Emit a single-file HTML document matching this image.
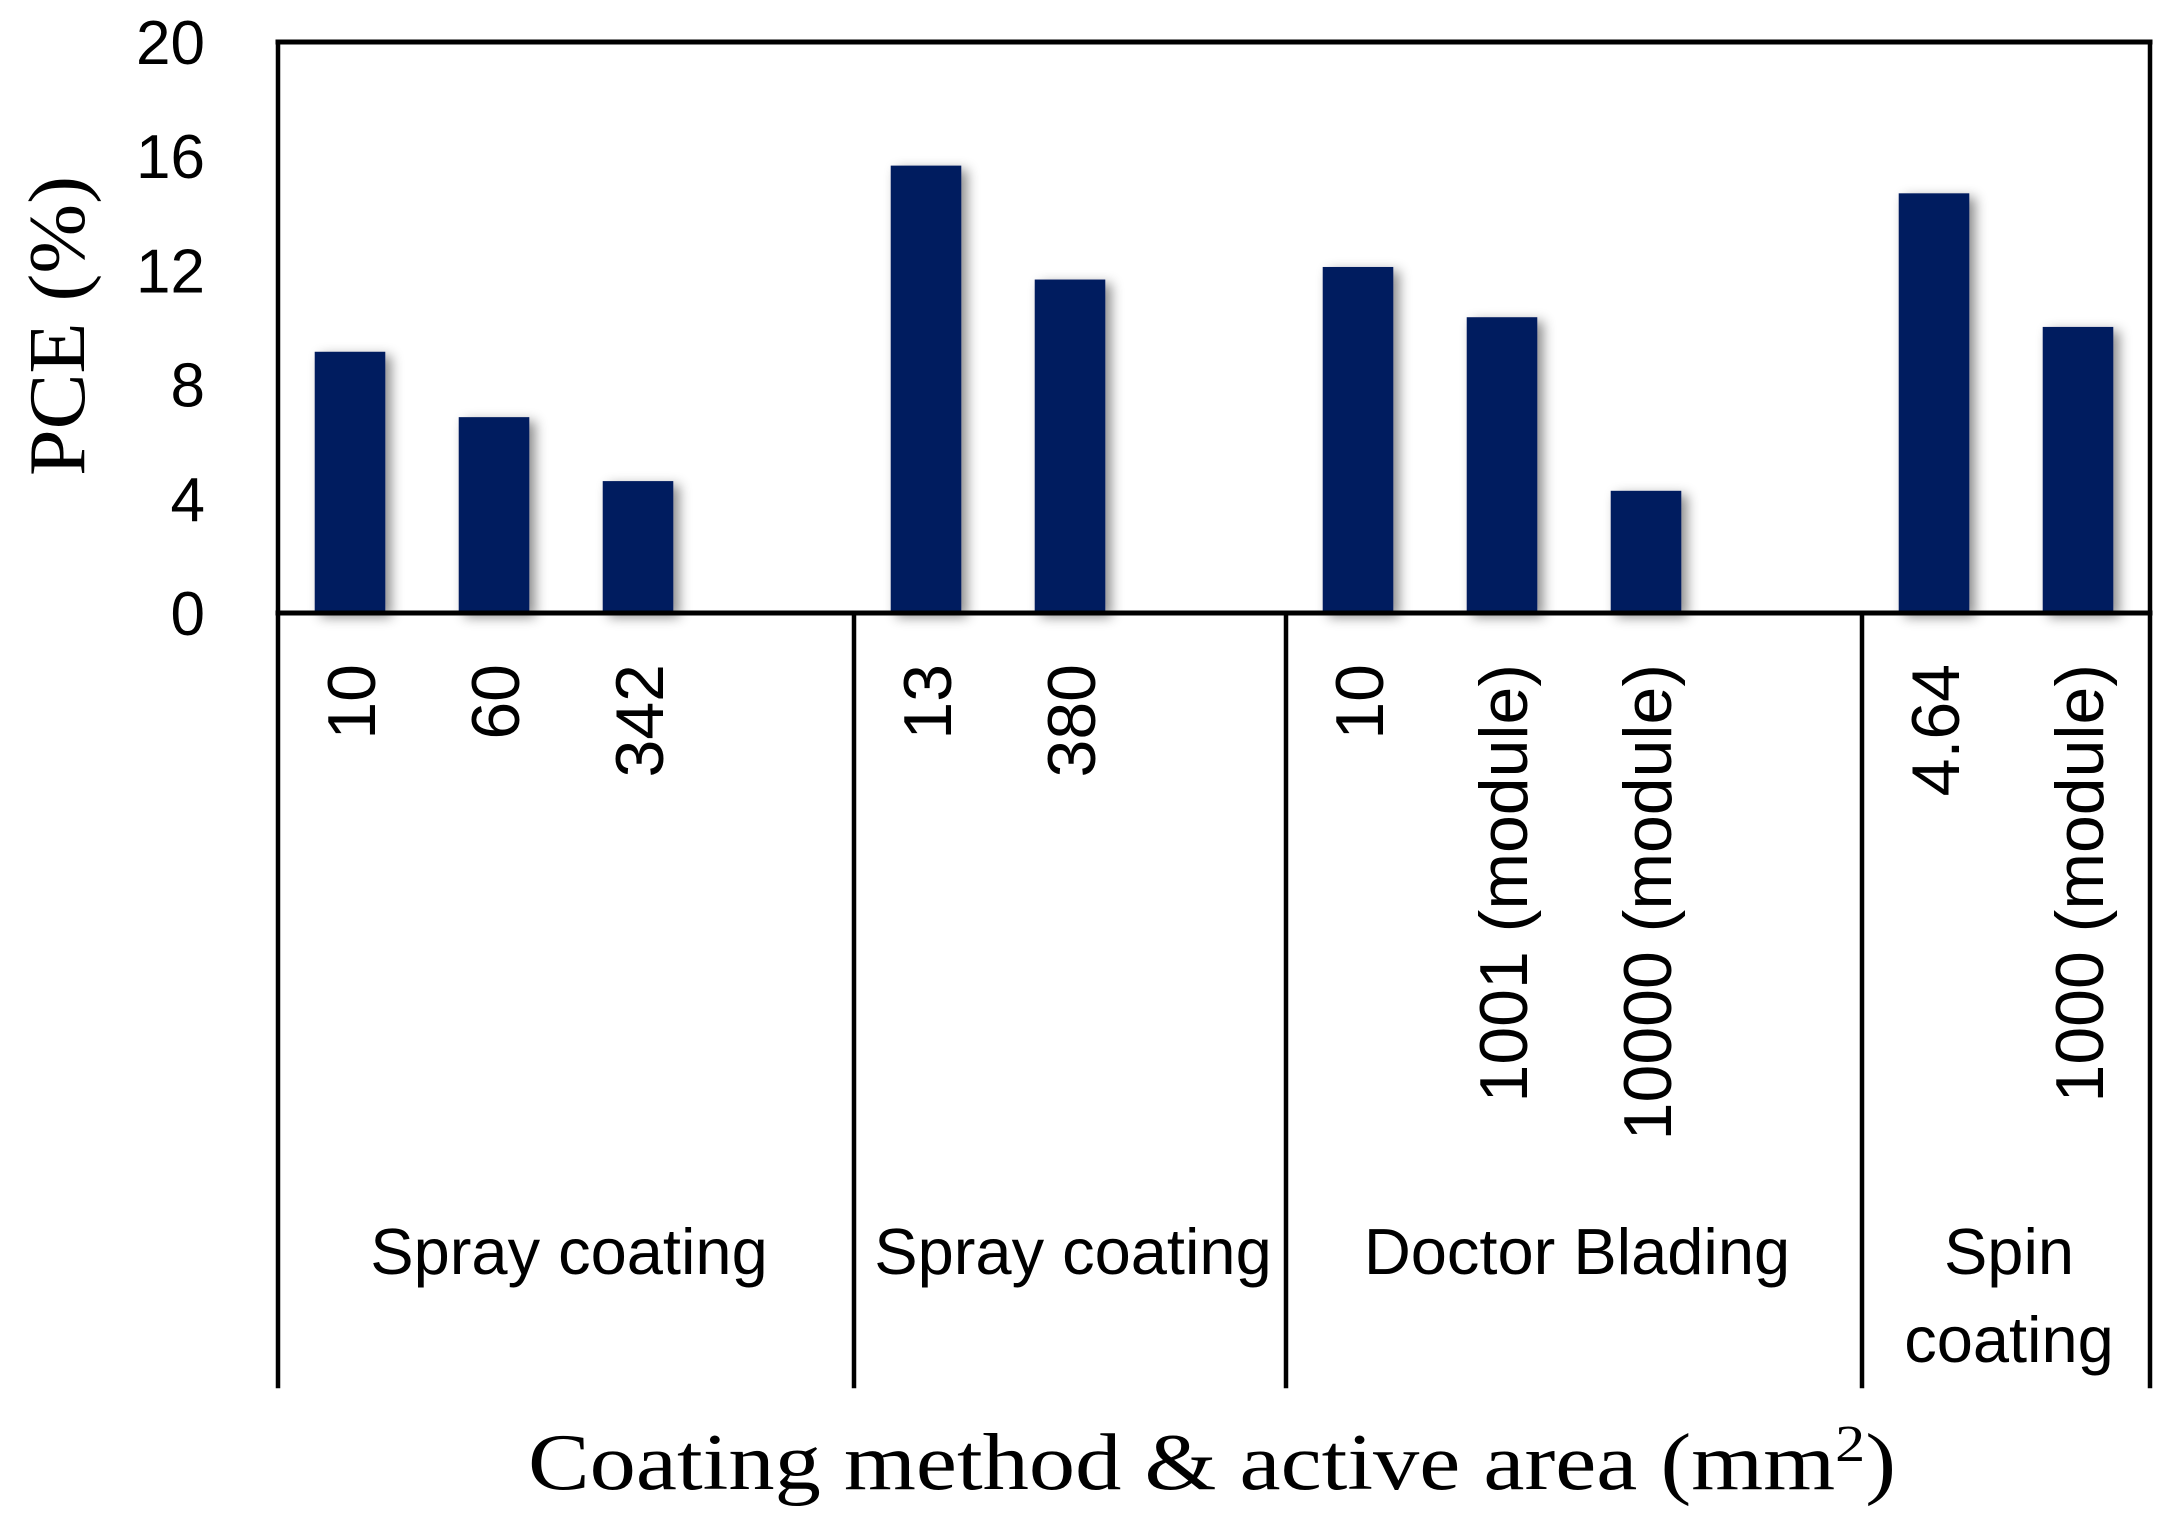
<!DOCTYPE html>
<html><head><meta charset="utf-8">
<style>
html,body{margin:0;padding:0;background:#fff;}
svg{display:block;}
</style></head>
<body>
<svg id="chart" width="2178" height="1523" viewBox="0 0 2178 1523" xmlns="http://www.w3.org/2000/svg">
<defs>
<filter id="shadow" x="-30%" y="-10%" width="170%" height="130%">
<feDropShadow dx="6" dy="4" stdDeviation="6" flood-color="#000" flood-opacity="0.45"/>
</filter>
</defs>
<g id="bars"></g>
<g id="frame"></g>
<g id="yticks"></g>
<g id="xticks"></g>
<g id="groups"></g>
<text transform="translate(84,326) rotate(-90)" text-anchor="middle" font-family="Liberation Serif, serif" font-size="80" textLength="300" lengthAdjust="spacingAndGlyphs">PCE (%)</text>
<text x="528" y="1489" font-family="Liberation Serif, serif" font-size="80" textLength="1368" lengthAdjust="spacingAndGlyphs">Coating method &amp;  active area (mm<tspan font-size="52" dy="-28">2</tspan><tspan dy="28">)</tspan></text>
</svg>
<script>
const categories = ["10","60","342","","13","380","","10","1001 (module)","10000 (module)","","4.64","1000 (module)"];
const values = [9.15,6.86,4.62,null,15.67,11.68,null,12.12,10.36,4.28,null,14.70,10.02];
const yTicks = [0,4,8,12,16,20];
const groupNames = [["Spray coating"],["Spray coating"],["Doctor Blading"],["Spin","coating"]];
const groupBounds = [[0,4],[4,7],[7,11],[11,13]];

const NS = "http://www.w3.org/2000/svg";
const L = 278, R = 2150, T = 42, Z = 613, B = 1386;
const yMax = 20;
const slot = (R - L) / categories.length;
const yScale = v => Z - v / yMax * (Z - T);
const xScale = i => L + i * slot;
function mk(tag, attrs, parent){
  const e = document.createElementNS(NS, tag);
  for (const k in attrs) e.setAttribute(k, attrs[k]);
  parent.appendChild(e);
  return e;
}
const gb = document.getElementById('bars');
const bw = slot * 0.49;
values.forEach((v,i)=>{
  if (v === null) return;
  const r = mk('rect', {x: xScale(i) + (slot-bw)/2, y: yScale(v), width: bw, height: Z - yScale(v), fill:'#001a5f', filter:'url(#shadow)'}, gb);
  
  
});
const gf = document.getElementById('frame');
const lines = [[L,T,R,T,5],[L,T,L,B,4.5],[R,T,R,B,4.5],[L,Z,R,Z,5]];
groupBounds.forEach(g=>{ if (g[0]>0) lines.push([xScale(g[0]),Z,xScale(g[0]),B,4.5]); });
lines.forEach(l=>{
  const e = mk('line', {x1:l[0],y1:l[1],x2:l[2],y2:l[3],stroke:'#000','stroke-width':l[4],'stroke-linecap':'square'}, gf);
  
  
});
const gy = document.getElementById('yticks');
yTicks.forEach(t=>{
  const e = mk('text', {x:205, y:yScale(t)+22, 'text-anchor':'end','font-family':'Liberation Sans, sans-serif','font-size':62}, gy);
  e.textContent = t;
  
  
});
const gx = document.getElementById('xticks');
categories.forEach((c,i)=>{
  if (!c) return;
  const cx = xScale(i) + slot/2 + 25;
  const e = mk('text', {transform:'translate('+cx+',664) rotate(-90)', 'text-anchor':'end','font-family':'Liberation Sans, sans-serif','font-size':68}, gx);
  e.textContent = c;
  
  
});
const gg = document.getElementById('groups');
groupBounds.forEach((g,k)=>{
  const cx = (xScale(g[0]) + xScale(g[1]))/2;
  groupNames[k].forEach((s,j)=>{
    const e = mk('text', {x:cx + 3, y:1274 + j*88, 'text-anchor':'middle','font-family':'Liberation Sans, sans-serif','font-size':65}, gg);
    e.textContent = s;
    
    
  });
});
</script>
</body></html>
